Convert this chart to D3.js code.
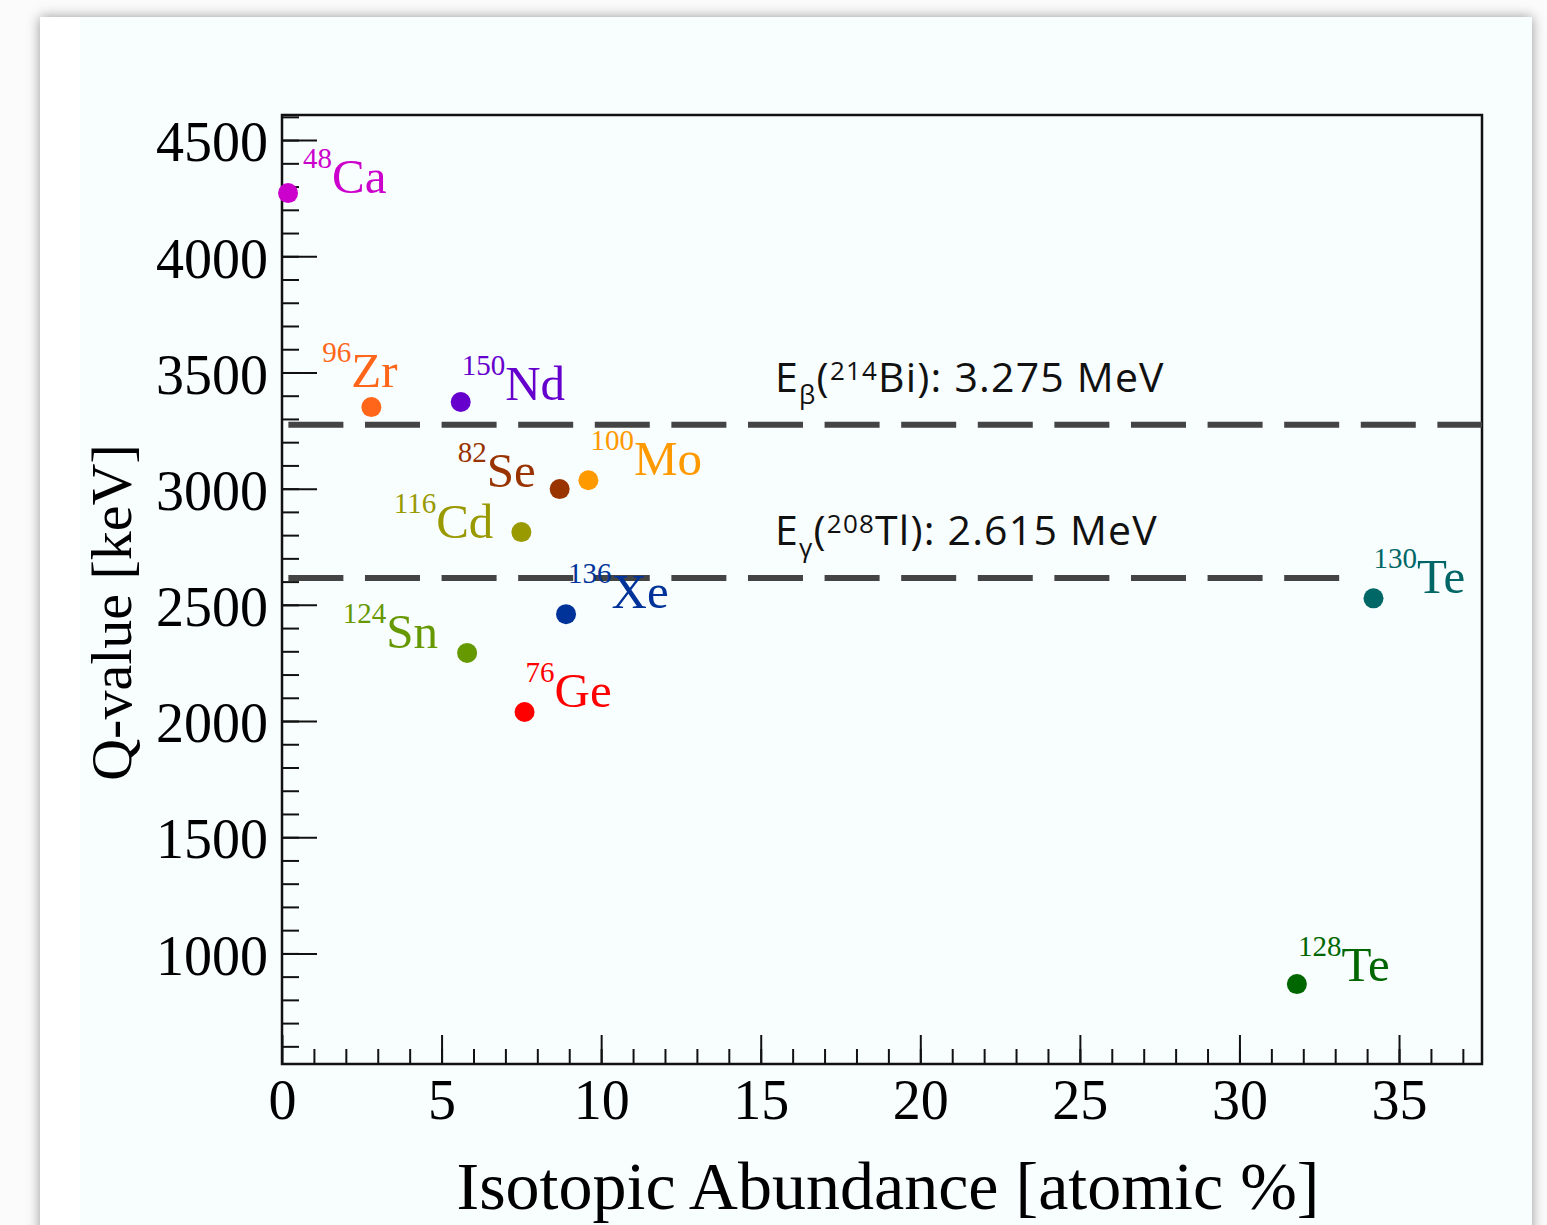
<!DOCTYPE html>
<html>
<head>
<meta charset="utf-8">
<script src="https://cdn.jsdelivr.net/npm/d3@7"></script>
<style>
    body { margin: 0; background: #fbfbfb; width: 1547px; height: 1225px; overflow: hidden; position: relative; }
    .card { position: absolute; left: 40px; top: 17px; width: 1492px; height: 1260px; background: #ffffff;
            box-shadow: 0 0 12px rgba(0, 0, 0, 0.4); }
    svg { position: absolute; left: 0; top: 0; }
</style>
</head>
<body>
<div class="card"></div>
<svg></svg>
<script>
// isotope data
const massNumbers = [48, 96, 150, 82, 100, 116, 136, 124, 76, 130, 128];
const elements = ["Ca", "Zr", "Nd", "Se", "Mo", "Cd", "Xe", "Sn", "Ge", "Te", "Te"];
const abundance = [0.19, 2.8, 5.6, 8.7, 9.6, 7.5, 8.9, 5.8, 7.6, 34.2, 31.8]; // atomic %
const qValues = [4272, 3351, 3373, 2998, 3036, 2813, 2460, 2293, 2039, 2528, 868]; // keV
const isoColors = ["#cc00cc", "#ff6619", "#6600cc", "#993300", "#ff9900", "#999900",
                   "#003399", "#669900", "#ff0000", "#006666", "#006600"];

// background lines
const bkgEnergy = [3275, 2615]; // keV
const bkgSub = ["β", "γ"];
const bkgMass = ["214", "208"];
const bkgTail = ["Bi): 3.275 MeV", "Tl): 2.615 MeV"];
const bkgEnd = [37.6, 33.3];

// axis ticks
const xMajorTicks = [0, 5, 10, 15, 20, 25, 30, 35];
const yMajorTicks = [1000, 1500, 2000, 2500, 3000, 3500, 4000, 4500];

// label placement relative to the marker: [dx, dy, anchor]
const labelPlace = [[15, 0, "start"], [-49, -20, "start"], [1, -2, "start"], [-24, -2, "end"],
                    [2, -5, "start"], [-28, 6, "end"], [2, -6, "start"], [-29, -5, "end"],
                    [1, -5, "start"], [0, -5, "start"], [1, -3, "start"]];

function main() {
    const pageWidth = 1547;
    const pageHeight = 1225;
    const left = 282, right = 1482, top = 115, bottom = 1064;
    const serif = "'Liberation Serif', 'Times New Roman', serif";
    const sans = "'Open Sans', Lato, sans-serif";

    let svg = d3.select("svg")
        .attr("width", pageWidth)
        .attr("height", pageHeight);

    // tinted plot image area
    svg.append("rect")
        .attr("x", 80).attr("y", 17)
        .attr("width", 1452).attr("height", pageHeight - 17)
        .attr("fill", "#f8fdfd");

    let xScale = d3.scaleLinear().domain([0, 37.6]).range([left, right]);
    let yScale = d3.scaleLinear().domain([524, 4608]).range([bottom, top]);

    // minor ticks
    svg.append("g")
        .attr("transform", `translate(0, ${bottom})`)
        .call(d3.axisBottom(xScale).tickValues(d3.range(1, 38)).tickSizeInner(-15).tickSizeOuter(0).tickFormat(""))
        .call(g => g.select(".domain").remove());
    svg.append("g")
        .attr("transform", `translate(${left}, 0)`)
        .call(d3.axisLeft(yScale).tickValues(d3.range(600, 4700, 100)).tickSizeInner(-17).tickSizeOuter(0).tickFormat(""))
        .call(g => g.select(".domain").remove());

    // major ticks with labels
    let xAxis = svg.append("g")
        .attr("transform", `translate(0, ${bottom})`)
        .call(d3.axisBottom(xScale).tickValues(xMajorTicks).tickFormat(d3.format("d"))
            .tickSizeInner(-29).tickSizeOuter(0).tickPadding(15));
    let yAxis = svg.append("g")
        .attr("transform", `translate(${left}, 0)`)
        .call(d3.axisLeft(yScale).tickValues(yMajorTicks).tickFormat(d3.format("d"))
            .tickSizeInner(-35).tickSizeOuter(0).tickPadding(14));

    [xAxis, yAxis].forEach(function(g) {
        g.select(".domain").remove();
        g.selectAll("text")
            .attr("font-family", serif)
            .attr("font-size", 56)
            .attr("fill", "#000");
    });
    yAxis.selectAll("text").attr("dy", "0.37em");
    svg.selectAll(".tick line").attr("stroke", "#111").attr("stroke-width", 2);

    // frame
    svg.append("rect")
        .attr("x", left).attr("y", top)
        .attr("width", right - left).attr("height", bottom - top)
        .attr("fill", "none")
        .attr("stroke", "#111")
        .attr("stroke-width", 2.5);

    // dashed background lines
    bkgEnergy.forEach(function(e, i) {
        svg.append("line")
            .attr("x1", xScale(0.2)).attr("x2", xScale(bkgEnd[i]))
            .attr("y1", yScale(e)).attr("y2", yScale(e))
            .attr("stroke", "#444")
            .attr("stroke-width", 6)
            .attr("stroke-dasharray", "55,21.6");

        let t = svg.append("text")
            .attr("x", xScale(15.45))
            .attr("y", yScale(e) - 33)
            .attr("font-family", sans)
            .attr("font-size", 41)
            .attr("letter-spacing", 1.2)
            .attr("fill", "#111");
        t.append("tspan").text("E");
        t.append("tspan").attr("font-size", 26).attr("dy", 12).text(bkgSub[i]);
        t.append("tspan").attr("dy", -12).text("(");
        t.append("tspan").attr("font-size", 26).attr("dy", -12).text(bkgMass[i]);
        t.append("tspan").attr("dy", 12).text(bkgTail[i]);
    });

    // markers
    let data = massNumbers.map(function(m, i) {
        return { mass: m, el: elements[i], x: abundance[i], q: qValues[i], color: isoColors[i], place: labelPlace[i] };
    });

    svg.selectAll("circle.iso")
        .data(data)
        .join("circle")
        .attr("class", "iso")
        .attr("cx", d => xScale(d.x))
        .attr("cy", d => yScale(d.q))
        .attr("r", 10)
        .attr("fill", d => d.color);

    // isotope labels
    let labels = svg.selectAll("text.iso")
        .data(data)
        .join("text")
        .attr("class", "iso")
        .attr("x", d => xScale(d.x) + d.place[0])
        .attr("y", d => yScale(d.q) + d.place[1])
        .attr("text-anchor", d => d.place[2])
        .attr("font-family", serif)
        .attr("fill", d => d.color);
    labels.append("tspan")
        .attr("font-size", 29)
        .attr("dy", -25)
        .text(d => d.mass);
    labels.append("tspan")
        .attr("font-size", 49)
        .attr("dy", 25)
        .text(d => d.el);

    // axis titles
    svg.append("text")
        .text("Isotopic Abundance [atomic %]")
        .attr("x", 888)
        .attr("y", 1209)
        .attr("font-family", serif)
        .attr("font-size", 68)
        .attr("text-anchor", "middle");

    svg.append("text")
        .text("Q-value [keV]")
        .attr("transform", `translate(131, ${(top + bottom) / 2 + 23}) rotate(-90)`)
        .attr("font-family", serif)
        .attr("font-size", 58)
        .attr("text-anchor", "middle");
}

main();
</script>
</body>
</html>
